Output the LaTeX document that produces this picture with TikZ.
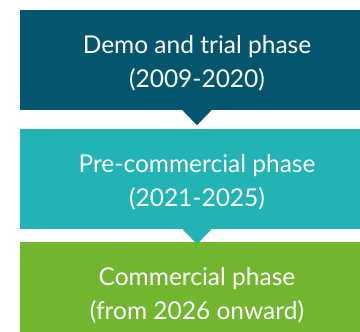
\documentclass[tikz,border=0pt]{standalone}
\usepackage{fontspec}
\setmainfont{Lato}
\usepackage{tikz}
\usetikzlibrary{positioning}
\definecolor{democol}{HTML}{03566E}
\definecolor{precomcol}{HTML}{22B4B4}
\definecolor{comcol}{HTML}{72B62F}
\tikzset{
  phase/.style={rectangle,minimum width=354pt,minimum height=100pt,inner sep=0pt},
  phasetext/.style={align=center,text=white,inner sep=0pt,
    font=\fontsize{24.5}{34}\selectfont},
  every node/.style={font=\small}
}

\begin{document}
\begin{tikzpicture}[x=1pt,y=-1pt,line cap=round,line join=round]
  % ---- window (pixel grid of the screenshot) ----
  \useasboundingbox (0,0) rectangle (360,332);
  \clip (0,0) rectangle (360,332);

  % ---- phase boxes ----
  \node[phase,fill=democol]   (demo)   at (197,60)  {};
  \node[phase,fill=precomcol] (precom) at (197,179) {};
  \node[phase,fill=comcol]    (com)    at (197,292) {};

  % ---- notches under the boxes ----
  \foreach \b in {demo,precom}
    \fill[\b col] ([xshift=-15pt,yshift=0.5pt]\b.south) -- ([xshift=15pt,yshift=0.5pt]\b.south)
      -- ([yshift=-15pt]\b.south) -- cycle;

  % ---- texts ----
  \node[phasetext] (demotxt)   at ([yshift=-3pt]demo.center)   {Demo and trial phase\\(2009-2020)};
  \node[phasetext] (precomtxt) at ([yshift=-3pt]precom.center) {Pre-commercial phase\\(2021-2025)};
  \node[phasetext] (comtxt)    at ([yshift=-3pt]com.center)    {Commercial phase\\(from 2026 onward)};
\end{tikzpicture}
\end{document}
